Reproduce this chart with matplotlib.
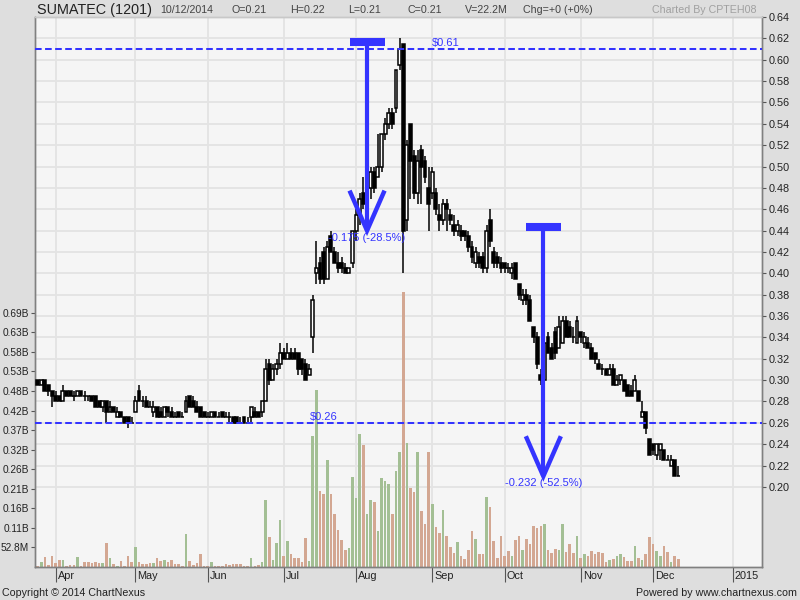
import numpy as np
import pandas as pd
import matplotlib
matplotlib.use("Agg")
import matplotlib.pyplot as plt
from matplotlib.patches import Rectangle
from matplotlib.lines import Line2D
from matplotlib.transforms import blended_transform_factory, offset_copy

# ---------------- data ----------------
TICKER = "SUMATEC (1201)"
START_DATE = "2014-03-25"
AXIS_END_DATE = "2015-01-12"
HOLIDAYS = ["2014-05-01", "2014-05-13", "2014-07-15", "2014-07-28", "2014-07-29",
            "2014-09-01", "2014-09-16", "2014-10-06", "2014-10-22", "2014-12-25",
            "2015-01-01"]

OPEN = [.300, .295, .300, .295, .290, .285, .285, .280, .290, .290,
        .285, .285, .290, .285, .285, .285, .285, .280, .275, .280,
        .270, .275, .265, .270, .265, .265, .260, .270, .290, .280,
        .280, .275, .270, .275, .270, .265, .275, .270, .265, .270,
        .265, .270, .285, .280, .275, .275, .270, .265, .265, .270,
        .265, .270, .265, .265, .265, .265, .260, .265, .260, .265,
        .270, .270, .270, .280, .315, .300, .310, .315, .325, .320,
        .325, .325, .325, .320, .315, .305, .340, .400, .410, .420,
        .395, .435, .420, .410, .410, .405, .400, .410, .440, .455,
        .475, .465, .480, .495, .490, .500, .530, .540, .550, .555,
        .595, .615, .450, .540, .510, .475, .515, .505, .480, .475,
        .475, .455, .450, .465, .455, .445, .440, .440, .440, .435,
        .425, .410, .415, .415, .405, .450, .420, .415, .410, .410,
        .405, .400, .410, .390, .375, .380, .375, .350, .340, .305,
        .300, .340, .330, .345, .330, .335, .355, .350, .340, .335,
        .345, .335, .335, .330, .325, .315, .310, .310, .305, .310,
        .295, .300, .300, .295, .290, .290, .290, .265, .270, .245,
        .240, .230, .235, .235, .225, .220, .225, .210]
HIGH = [.300, .300, .300, .295, .290, .290, .285, .295, .290, .290,
        .290, .290, .290, .290, .285, .285, .285, .280, .280, .280,
        .280, .275, .275, .270, .265, .265, .265, .285, .295, .285,
        .285, .280, .280, .275, .275, .275, .275, .275, .270, .270,
        .270, .285, .285, .285, .280, .275, .270, .270, .270, .270,
        .270, .270, .270, .270, .265, .265, .265, .265, .265, .275,
        .275, .270, .280, .320, .320, .315, .320, .335, .330, .335,
        .330, .330, .325, .320, .320, .315, .380, .430, .415, .425,
        .430, .440, .425, .420, .415, .410, .405, .440, .460, .475,
        .490, .490, .500, .500, .530, .530, .545, .555, .555, .590,
        .620, .615, .525, .540, .515, .515, .520, .510, .500, .500,
        .480, .465, .470, .470, .460, .455, .450, .445, .440, .440,
        .430, .425, .420, .420, .445, .460, .425, .420, .415, .410,
        .410, .410, .410, .390, .385, .385, .380, .350, .345, .310,
        .340, .345, .335, .350, .360, .360, .360, .355, .350, .360,
        .345, .345, .340, .335, .325, .320, .315, .310, .315, .315,
        .305, .305, .300, .295, .295, .305, .290, .280, .270, .245,
        .240, .240, .240, .235, .230, .230, .225, .220]
LOW = [.295, .295, .290, .285, .275, .280, .280, .280, .285, .285,
       .280, .285, .285, .280, .280, .280, .275, .275, .270, .260,
       .270, .270, .265, .265, .260, .255, .260, .270, .280, .275,
       .275, .275, .265, .265, .265, .265, .265, .265, .265, .265,
       .265, .270, .275, .275, .270, .265, .265, .265, .265, .265,
       .265, .265, .265, .260, .260, .260, .260, .260, .260, .260,
       .265, .265, .265, .280, .295, .300, .305, .310, .320, .320,
       .320, .320, .305, .305, .300, .305, .325, .390, .390, .390,
       .395, .420, .410, .400, .400, .400, .400, .405, .430, .445,
       .460, .460, .470, .475, .490, .495, .525, .535, .535, .550,
       .590, .400, .440, .470, .470, .465, .465, .485, .440, .470,
       .455, .440, .445, .440, .445, .435, .435, .430, .430, .420,
       .410, .405, .405, .400, .400, .425, .405, .405, .400, .400,
       .400, .395, .395, .375, .370, .370, .355, .335, .310, .295,
       .295, .325, .320, .320, .330, .335, .340, .340, .335, .335,
       .335, .330, .330, .320, .315, .310, .305, .305, .305, .295,
       .295, .295, .290, .285, .285, .290, .280, .265, .250, .230,
       .230, .225, .225, .225, .225, .220, .210, .210]
CLOSE = [.295, .300, .290, .290, .285, .280, .280, .290, .285, .285,
         .285, .290, .285, .285, .285, .280, .275, .275, .280, .270,
         .275, .270, .270, .265, .260, .260, .260, .280, .280, .280,
         .275, .275, .275, .265, .265, .275, .270, .265, .265, .265,
         .265, .280, .275, .275, .270, .265, .265, .265, .270, .265,
         .265, .265, .265, .265, .260, .260, .260, .260, .260, .275,
         .265, .265, .280, .310, .300, .310, .315, .325, .320, .325,
         .320, .320, .310, .310, .300, .310, .375, .405, .395, .395,
         .425, .420, .410, .405, .405, .400, .405, .440, .455, .470,
         .465, .485, .495, .480, .500, .530, .540, .550, .540, .590,
         .610, .440, .520, .505, .475, .505, .500, .490, .465, .495,
         .460, .450, .465, .460, .450, .440, .445, .435, .435, .425,
         .415, .420, .410, .405, .440, .430, .410, .410, .405, .405,
         .405, .405, .395, .380, .380, .375, .355, .340, .315, .300,
         .335, .325, .320, .325, .350, .355, .340, .340, .340, .355,
         .340, .340, .330, .320, .320, .310, .310, .305, .310, .295,
         .300, .305, .290, .285, .285, .300, .280, .270, .255, .230,
         .235, .240, .240, .225, .225, .225, .210, .210]
VOLUME_M = [3, 14, 27, 5, 30, 12, 20, 20, 2, 5,
            5, 27, 4, 14, 14, 12, 14, 12, 12, 66,
            23, 9, 3, 16, 3, 30, 14, 55, 14, 9,
            9, 11, 12, 25, 16, 20, 13, 20, 7, 9,
            3, 88, 16, 5, 11, 34, 2, 2, 14, 3,
            2, 2, 9, 5, 9, 9, 9, 3, 2, 23,
            3, 5, 14, 182, 80, 20, 66, 128, 30, 70,
            34, 23, 23, 14, 77, 16, 354, 478, 205, 196,
            290, 196, 142, 99, 72, 47, 50, 242, 187, 360,
            330, 144, 182, 175, 97, 240, 231, 223, 142, 258,
            310, 742, 335, 214, 202, 310, 151, 115, 310, 171,
            109, 92, 155, 83, 54, 38, 67, 31, 22, 47,
            97, 76, 36, 36, 188, 162, 70, 25, 85, 29,
            43, 29, 74, 85, 47, 76, 63, 112, 106, 112,
            115, 47, 38, 49, 47, 115, 40, 61, 38, 83,
            25, 36, 29, 43, 36, 40, 38, 13, 20, 22,
            29, 34, 27, 15, 15, 58, 25, 20, 36, 81,
            63, 43, 31, 58, 40, 13, 29, 22.2]

PRICE_TICKS = [0.20, 0.22, 0.24, 0.26, 0.28, 0.30, 0.32, 0.34, 0.36, 0.38, 0.40,
               0.42, 0.44, 0.46, 0.48, 0.50, 0.52, 0.54, 0.56, 0.58, 0.60, 0.62, 0.64]
VOL_TICK_STEP = 52.8e6
VOL_TICK_COUNT = 13
LEVELS = [0.61, 0.26]                 # horizontal reference lines
LEVEL_LABEL_BAR = [109.0, 75.3]       # bar index where each level label starts
MEASURES = [(91.0, 0.615, 0.44),      # (bar index, from price, to price)
            (139.7, 0.442, 0.21)]

# ---------------- styling ----------------
FIG_BG = "#dedede"
PLOT_BG = "#f5f5f5"
GRID = "#e3e3e3"
BLUE = "#3434ff"
UP_VOL = "#a3bf94"
DOWN_VOL = "#d3a792"
plt.rcParams["font.family"] = ["Liberation Sans", "DejaVu Sans"]

all_dates = [d for d in pd.bdate_range(START_DATE, AXIS_END_DATE)
             if d.strftime("%Y-%m-%d") not in HOLIDAYS]
n = len(CLOSE)
idx = np.arange(n)
o, h, l, c = map(np.array, (OPEN, HIGH, LOW, CLOSE))
vol = np.array(VOLUME_M) * 1e6

# month ticks at the first trading day of each month
tick_pos, tick_lab = [], []
for k in range(1, len(all_dates)):
    if all_dates[k].month != all_dates[k - 1].month:
        d = all_dates[k]
        tick_pos.append(k)
        tick_lab.append(str(d.year) if d.month == 1 else d.strftime("%b"))

fig = plt.figure(figsize=(8, 6), dpi=100, facecolor=FIG_BG)
ax_v = fig.add_axes([35 / 800, 33 / 600, 727 / 800, 550 / 600])
ax_p = ax_v.twinx()
ax_v.set_facecolor(PLOT_BG)
ax_v.set_xlim(-0.72, 200.1)
ax_v.set_ylim(0, 1.4847e9)
ax_p.set_ylim(0.125, 0.64)

# grid (drawn behind the volume bars)
hgrid_tr = blended_transform_factory(ax_v.transAxes, ax_p.transData)
for p in PRICE_TICKS:
    ax_v.plot([0, 1], [p, p], transform=hgrid_tr, color=GRID, lw=1.3, zorder=0.5)
for tp in tick_pos:
    ax_v.axvline(tp, color=GRID, lw=1.3, zorder=0.5)

# volume bars
prev_c = np.concatenate([[c[0]], c[:-1]])
up = (c > o) | ((c == o) & (c > prev_c))
ax_v.bar(idx, vol, width=0.72, color=np.where(up, UP_VOL, DOWN_VOL),
         linewidth=0, zorder=2)

# candles
ax_p.vlines(idx, l, h, color="black", lw=1.1, zorder=3)
for i in range(n):
    if c[i] > o[i]:
        ax_p.add_patch(Rectangle((i - 0.4, o[i]), 0.8, c[i] - o[i], facecolor="white",
                                 edgecolor="black", lw=1.1, zorder=4))
    elif c[i] < o[i]:
        ax_p.add_patch(Rectangle((i - 0.4, c[i]), 0.8, o[i] - c[i], facecolor="black",
                                 edgecolor="black", lw=1.1, zorder=4))
    else:
        ax_p.hlines(o[i], i - 0.5, i + 0.5, color="black", lw=1.1, zorder=4)

# horizontal reference levels
for lev, at in zip(LEVELS, LEVEL_LABEL_BAR):
    ax_p.axhline(lev, color=BLUE, lw=1.45, ls=(0, (3.3, 1.7)), zorder=5)
    ax_p.text(at, lev, r"\$%.2f" % lev, color=BLUE, fontsize=8, ha="left", va="bottom",
              transform=offset_copy(ax_p.transData, fig=fig, y=1, units="dots"), zorder=6)

# measure arrows
x0, x1 = ax_p.get_xlim()
y0, y1 = ax_p.get_ylim()
px_x = 727 / (x1 - x0)
px_y = 550 / (y1 - y0)
for xb, p0, p1 in MEASURES:
    half = 17.5 / px_x
    ax_p.add_line(Line2D([xb - half, xb + half], [p0 + 1.5 / px_y] * 2, color=BLUE,
                         lw=5.8, solid_capstyle="butt", zorder=7))
    ax_p.add_line(Line2D([xb, xb], [p0, p1], color=BLUE, lw=3.0,
                         solid_capstyle="butt", zorder=7))
    ax_p.add_line(Line2D([xb - 17.5 / px_x, xb, xb + 17.5 / px_x],
                         [p1 + 40 / px_y, p1, p1 + 40 / px_y], color=BLUE, lw=3.2,
                         solid_joinstyle="miter", solid_capstyle="butt", zorder=7))
    delta = p1 - p0
    ax_p.text(xb, p1, "%.3f (%.1f%%)" % (delta, delta / p0 * 100), color=BLUE,
              fontsize=8, ha="center", va="top", zorder=8,
              transform=offset_copy(ax_p.transData, fig=fig, y=-2, units="dots"))

# axes, ticks
ax_p.set_yticks(PRICE_TICKS)
ax_p.set_yticklabels(["%.2f" % p for p in PRICE_TICKS])
ax_p.tick_params(axis="y", direction="out", length=3, width=0.8, color="#555555",
                 labelsize=7.8, labelcolor="#222222", pad=1.5)
vt = [VOL_TICK_STEP * k for k in range(1, VOL_TICK_COUNT + 1)]
ax_v.set_yticks(vt)
ax_v.set_yticklabels([("%.1fM" % (v / 1e6)) if v < 1e8 else ("%.2fB" % (v / 1e9)) for v in vt])
ax_v.tick_params(axis="y", direction="out", length=3, width=0.8, color="#555555",
                 labelsize=7.3, labelcolor="#222222", pad=1.2)
ax_v.set_xticks(tick_pos)
ax_v.set_xticklabels([])
ax_v.tick_params(axis="x", direction="out", length=11, width=0.8, color="#555555")
lab_tr = offset_copy(blended_transform_factory(ax_v.transData, ax_v.transAxes),
                     fig=fig, x=2, y=-4, units="dots")
for tp, tl in zip(tick_pos, tick_lab):
    ax_v.text(tp, 0, tl, transform=lab_tr, ha="left", va="top", fontsize=7.8,
              color="#222222")
for a in (ax_v, ax_p):
    for s in a.spines.values():
        s.set_color("#808080")
        s.set_linewidth(1.0)
    a.spines["top"].set_color("#c8c8c8")

# header and footer
last = n - 1
chg = c[last] - c[last - 1]
hdr = [(37, TICKER, 10.4, "#222222"),
       (160, all_dates[last].strftime("%d/%m/%Y"), 7.7, "#444444"),
       (232, "O=%.2f" % o[last], 7.7, "#444444"),
       (290, "H=%.2f" % h[last], 7.7, "#444444"),
       (348, "L=%.2f" % l[last], 7.7, "#444444"),
       (407, "C=%.2f" % c[last], 7.7, "#444444"),
       (465, "V=%.1fM" % VOLUME_M[last], 7.7, "#444444"),
       (523, "Chg=%+g (%+g%%)" % (round(chg, 3), round(chg / c[last - 1] * 100, 1)), 7.7, "#444444")]
for xpx, txt, fs, col in hdr:
    fig.text(xpx / 800, 1 - 10 / 600, txt, fontsize=fs, color=col, ha="left",
             va="center")
fig.text(757 / 800, 1 - 10 / 600, "Charted By CPTEH08", fontsize=7.7, color="#a0a0a0",
         ha="right", va="center")
fig.text(2 / 800, 1 - 593 / 600, "Copyright \u00a9 2014 ChartNexus", fontsize=7.7,
         color="#222222", ha="left", va="center")
fig.text(797 / 800, 1 - 593 / 600, "Powered by www.chartnexus.com", fontsize=7.7,
         color="#222222", ha="right", va="center")

fig.savefig("out.png", dpi=100, facecolor=FIG_BG)
